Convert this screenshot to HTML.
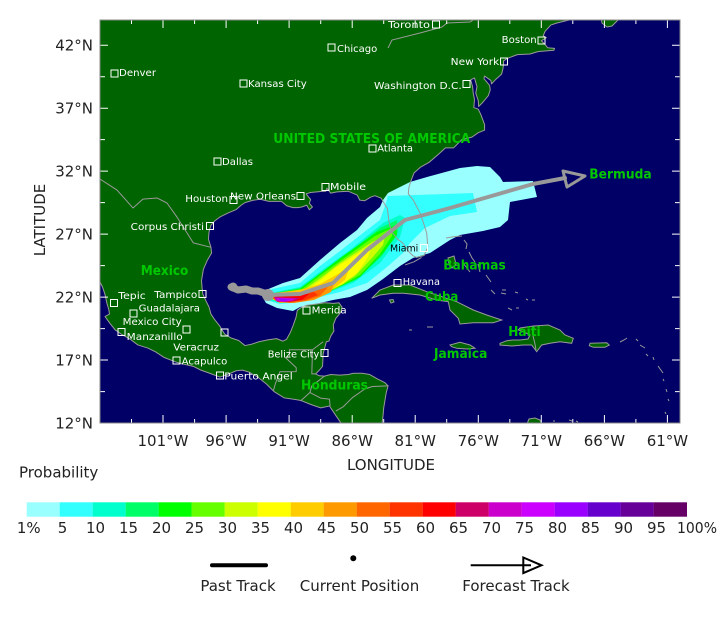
<!DOCTYPE html>
<html><head><meta charset="utf-8"><style>html,body{margin:0;padding:0;background:#fff;overflow:hidden}svg{display:block}</style></head>
<body>
<svg width="720" height="629" viewBox="0 0 720 629" xmlns="http://www.w3.org/2000/svg" xmlns:xlink="http://www.w3.org/1999/xlink" font-family="'DejaVu Sans','Liberation Sans',sans-serif">
<rect width="720" height="629" fill="#fff"/>
<defs>
<clipPath id="mc"><rect x="100" y="20" width="580" height="403"/></clipPath>
<polygon id="cont" points="-106.2,44.2 -68.6,44.2 -68.8,44.0 -69.2,43.9 -69.8,43.75 -70.25,43.6 -70.7,43.1 -70.85,42.75 -70.6,42.6 -71.0,42.35 -70.7,42.05 -70.5,41.8 -69.95,41.75 -70.0,41.6 -70.6,41.55 -71.2,41.5 -71.4,41.45 -71.9,41.3 -72.9,41.25 -73.7,40.95 -74.0,40.75 -74.0,40.45 -74.05,40.1 -74.15,39.7 -74.6,39.3 -74.95,38.93 -75.0,39.2 -75.5,39.55 -75.55,39.35 -75.1,38.8 -75.05,38.45 -75.2,38.0 -75.65,37.45 -75.97,37.13 -76.0,37.6 -76.2,38.2 -76.1,38.7 -76.3,39.4 -76.6,39.25 -76.45,38.7 -76.4,38.2 -76.3,37.7 -76.35,37.05 -76.0,36.92 -75.8,36.5 -75.5,35.7 -75.5,35.25 -76.0,35.05 -76.5,34.7 -77.3,34.5 -77.95,33.85 -78.6,33.85 -79.2,33.3 -79.9,32.7 -80.6,32.3 -81.1,31.85 -81.35,31.2 -81.5,30.7 -81.55,30.2 -81.15,29.7 -80.62,28.67 -80.35,27.9 -80.09,27.08 -80.0,25.97 -80.3,25.3 -80.9,25.15 -81.2,25.3 -81.5,25.6 -82.0,26.3 -82.4,26.6 -82.8,27.1 -83.0,27.6 -83.1,28.1 -83.2,29.0 -83.7,29.85 -84.2,30.05 -84.5,29.95 -85.0,29.65 -85.4,29.7 -85.6,30.1 -86.3,30.4 -87.2,30.35 -87.7,30.25 -88.0,30.65 -88.1,30.4 -88.5,30.38 -89.3,30.3 -89.65,30.2 -89.5,30.0 -89.3,29.75 -89.4,29.45 -89.15,29.15 -89.4,28.93 -89.6,29.3 -90.0,29.15 -90.3,29.1 -90.7,29.1 -91.2,29.25 -91.6,29.6 -92.1,29.6 -92.6,29.6 -93.3,29.77 -93.9,29.68 -94.5,29.5 -94.8,29.3 -95.2,28.95 -95.9,28.65 -96.5,28.35 -96.9,28.05 -97.2,27.7 -97.35,27.2 -97.4,26.6 -97.2,25.95 -97.15,25.5 -97.5,24.9 -97.8,24.2 -97.95,23.3 -97.9,22.7 -97.85,22.25 -97.6,21.7 -97.35,21.2 -97.2,20.65 -96.9,20.2 -96.5,19.7 -96.3,19.35 -96.1,19.05 -95.6,18.75 -95.0,18.55 -94.5,18.15 -94.0,18.25 -93.4,18.45 -92.7,18.6 -92.0,18.7 -91.5,18.5 -91.2,18.65 -90.9,19.2 -90.7,19.7 -90.45,20.4 -90.35,20.95 -90.0,21.2 -89.6,21.35 -88.8,21.45 -88.2,21.55 -87.5,21.5 -87.05,21.55 -86.8,21.2 -86.9,20.8 -87.3,20.3 -87.5,19.8 -87.45,19.3 -87.7,18.9 -87.85,18.5 -88.05,18.45 -88.2,17.9 -88.3,17.5 -88.35,16.5 -88.6,16.2 -88.9,15.9 -88.6,15.75 -88.2,15.72 -87.7,15.85 -87.0,15.8 -86.3,15.85 -85.9,15.95 -85.2,15.95 -84.6,15.85 -84.0,15.5 -83.4,15.2 -83.15,14.95 -83.3,14.4 -83.4,13.8 -83.5,13.2 -83.55,12.6 -83.65,11.8 -86.75,11.8 -87.3,12.6 -87.6,13.05 -87.8,13.35 -88.5,13.2 -89.3,13.48 -90.1,13.8 -90.7,13.9 -91.4,14.0 -92.2,14.5 -92.8,15.1 -93.5,15.65 -94.2,16.05 -94.7,16.2 -95.2,16.15 -95.9,15.85 -96.5,15.65 -97.3,15.95 -98.0,16.2 -98.6,16.5 -99.5,16.7 -100.0,16.85 -100.9,17.2 -101.6,17.65 -102.2,17.95 -103.0,18.2 -103.6,18.65 -104.3,19.05 -104.8,19.4 -105.2,19.9 -105.6,20.45 -105.25,20.65 -105.3,21.0 -105.45,21.5 -105.6,22.2 -105.8,22.8 -106.2,23.6"/>
<g id="isl">
<polygon points="371.7,298.3 380,290 393.3,285 410,285 426.7,291.7 441.7,296.7 456.7,301.7 473.3,310 486.7,315 501.7,320 493.3,322.7 473.3,322.7 460,324 458.3,318.3 450,310 448.3,301.7 436.7,300 420,295 403.3,293.3 393.3,293.3 380,295"/>
<polygon points="389.5,300 393,299.5 394,302 391,303"/>
<polygon points="500,343.3 506.7,340.7 513,340 520,340 528,339 530,335 523.3,331.7 518.3,330 520,328 533.3,326 548.3,325 560,330 565,335 573.3,338.3 571.7,343.3 560,341.7 550,343.3 541.7,345 536.7,351.7 531.7,345 523.3,345 511.7,346 500,345"/>
<polygon points="450,345 460,342.3 470,345 475,348.3 466.7,349 456.7,348.3 451.7,346.7"/>
<polygon points="590,343.3 606.7,342.7 609.3,345 605,347.3 593.3,347.3 589.3,345.7"/>
<polygon points="448,258 454,256 456,264 452,268 449,264"/>
<polygon points="601,18 602,23 607,27 612,26 616,22 620,18"/>
<polygon points="527,424 529,419 535,418 540,420 542,424"/>
</g>
</defs>

<g clip-path="url(#mc)">
<rect x="100" y="20" width="580" height="403" fill="#000066"/>
<g transform="matrix(12.609 0 0 -12.594 1436.55 574.14)"><use xlink:href="#cont" fill="#006400"/></g>
<use xlink:href="#isl" fill="#006400"/>

<polygon fill="#99ffff" points="262,296 266,290 283,283 300,278 320,260 340,243 357,230 367,218 380,207 383,200 388,193 410,182 427,177 460,168 477,166 490,167 500,177 503,182 533,181 537,197 510,202 508,220 500,227 483,231 460,235 450,240 430,253 413,258 400,266 383,279 367,290 350,297 333,300 320,303 300,307 293,311 277,308 266,303"/>
<polygon fill="#33ffff" points="264,295 272,289 300,283 320,266 340,251 363,233 380,220 386,203 388,196 473,193 477,212 450,216 425,228 410,243 403,253 387,267 367,283 340,292 320,297 300,302 280,304 266,300"/>
<polygon fill="#00ffcc" points="266,294 300,287 325,268 350,250 383,223 400,215 405,218 400,237 380,263 353,283 327,293 300,300 280,303 268,300"/>
<polygon fill="#00ff66" points="268,294 300,288 325,270 347,254 380,228 397,220 398,232 382,256 356,280 330,291 300,299 280,302"/>
<polygon fill="#00ff00" points="270,294 300,289 322,272 343,256 377,232 396,225 397,235 383,253 360,277 333,290 305,298 282,301"/>
<polygon fill="#66ff00" points="272,294 302,289 322,274 343,259 375,236 392,228 392,236 380,254 360,275 335,289 305,298 283,300"/>
<polygon fill="#ccff00" points="274,294 305,289 322,277 340,263 372,242 385,236 383,245 372,258 355,276 335,288 308,297 285,300"/>
<polygon fill="#ffff00" points="276,294 308,289 322,279 335,268 360,252 372,246 368,257 358,272 343,284 320,294 298,299 282,300"/>
<polygon fill="#ffcc00" points="274,293 300,290 320,284 338,274 350,266 345,280 330,291 313,298 295,302 280,303 272,299"/>
<polygon fill="#ff9900" points="274,293 300,292 320,288 335,281 331,292 314,300 294,303 279,302 272,298"/>
<polygon fill="#ff6600" points="274,293 300,293 318,290 328,287 320,296 305,301 290,303 278,302 272,298"/>
<polygon fill="#ff3300" points="274,293 298,294 314,292 318,295 305,300 290,302 277,302"/>
<polygon fill="#ff0000" points="274,293 296,294 309,294 302,300 288,302 277,301"/>
<polygon fill="#cc0066" points="274,297 300,298 295,301 284,302 276,301"/>
<polygon fill="#cc00cc" points="275,297.5 297,298.5 291,301 282,302 276,301"/>
<polygon fill="#cc00ff" points="277,298 294,299 288,301 279,301"/>
<polygon fill="#9900ff" points="279,298.5 291,299.5 285,300.8 280,300.8"/>

<g transform="matrix(12.609 0 0 -12.594 1436.55 574.14)" fill="none" stroke="#9a9a9a" stroke-width="0.0794" stroke-linejoin="round">
<use xlink:href="#cont"/>
<polyline points="-106,31.37 -104.65,30.5 -103.38,29.07 -102.6,29.78 -101.48,29.87 -100.69,29.47 -99.9,28.36 -99.1,27.1 -98.6,26.3 -97.2,25.95"/>
<polyline points="-92.25,14.55 -92.1,15.1 -91.73,16.07 -90.44,16.08 -90.44,16.4 -91.3,17.2 -90.98,17.25 -90.98,17.82 -89.15,17.82 -88.3,18.45"/>
<polyline points="-89.15,17.82 -89.2,15.9 -88.9,15.9"/>
<polyline points="-88.2,15.72 -89.2,14.95 -89.35,14.42 -90.1,13.75"/>
<polyline points="-89.35,14.42 -88.5,13.98 -87.8,13.9 -87.75,13.35"/>
<polyline points="-87.3,12.95 -86.7,13.3 -86.0,14.0 -85.0,14.7 -84.4,14.9 -83.15,14.95"/>
<polyline points="-80.5,25.15 -81.1,24.8 -81.8,24.55"/>
</g>
<g fill="none" stroke="#9a9a9a" stroke-width="1">
<use xlink:href="#isl"/>
<polyline points="388,48 392,40 420,33 442,27 447,23 470,22 475,19"/>
<polyline points="534,326 533,336 535,344 536,350"/>
<polyline points="446,238 455,236.5 462,236"/>
<polyline points="464,240 467,244 466,249"/>
<polyline points="469,252 472,258 475,262"/>
<polyline points="478,264 480,272"/>
<polyline points="463,263 470,272"/>
<polyline points="486,275 491,282"/>
<polyline points="491,290 495,294"/>
<polyline points="502,290 506,290"/>
<polyline points="501,293 506,294"/>
<polyline points="515,292 518,293"/>
<polyline points="508,308 512,310"/>
<polyline points="516,308 519,308"/>
<polyline points="526,299 528,300"/>
<polyline points="532,300 535,300"/>
<polyline points="409,330 412,330"/>
<polyline points="427,327 433,327"/>
<polyline points="620,342 624,340 627,338"/>
<polyline points="636,339 638,341"/>
<polyline points="640,345 645,348"/>
<polyline points="646,354 648,356"/>
<polyline points="653,357 654,360"/>
<polyline points="658,366 663,373"/>
<polyline points="663,379 664,381"/>
<polyline points="666,389 667,392"/>
<polyline points="668,399 669,401"/>
<polyline points="665,412 666,414"/>
<polyline points="553,421 555,421"/>
<polyline points="569,420 572,421"/>
<polyline points="576,421 578,422"/>
</g>

<g fill="none" stroke="#999" stroke-linecap="round" stroke-linejoin="round">
<polyline stroke-width="4" points="268,295 300,294 333,283 367,250 405,220 450,208 533,184 565,178"/>
<polygon stroke-width="3" points="563,171 585,176 567,187"/>
<polyline stroke-width="7" points="231,287 238,290 246,289 252,291 258,291 264,293"/>
</g>
<circle cx="233" cy="287" r="4.5" fill="#999"/>
<circle cx="268" cy="295" r="6" fill="#999"/>

<g fill="none" stroke="#fff" stroke-width="1">
<rect x="432.5" y="21" width="7" height="7"/>
<rect x="538" y="37" width="7" height="7"/>
<rect x="500.5" y="58" width="7" height="7"/>
<rect x="463" y="80.5" width="7" height="7"/>
<rect x="369" y="145" width="7" height="7"/>
<rect x="328" y="44" width="7" height="7"/>
<rect x="111" y="70" width="7" height="7"/>
<rect x="240" y="80" width="7" height="7"/>
<rect x="214" y="158" width="7" height="7"/>
<rect x="230" y="196.5" width="7" height="7"/>
<rect x="297" y="192.5" width="7" height="7"/>
<rect x="322" y="183.5" width="7" height="7"/>
<rect x="206.5" y="222.5" width="7" height="7"/>
<rect x="110.5" y="299.5" width="7" height="7"/>
<rect x="199" y="290.5" width="7" height="7"/>
<rect x="130" y="310" width="7" height="7"/>
<rect x="183" y="326" width="7" height="7"/>
<rect x="118" y="328.5" width="7" height="7"/>
<rect x="221" y="329" width="7" height="7"/>
<rect x="173" y="357" width="7" height="7"/>
<rect x="216.5" y="372" width="7" height="7"/>
<rect x="303" y="307" width="7" height="7"/>
<rect x="321" y="349.5" width="7" height="7"/>
<rect x="420.5" y="244.5" width="7" height="7"/>
<rect x="394" y="279.5" width="7" height="7"/>
</g>
<g font-size="10" fill="#fff">
<text x="388" y="28" textLength="42" lengthAdjust="spacingAndGlyphs">Toronto</text>
<text x="501.7" y="43" textLength="35" lengthAdjust="spacingAndGlyphs">Boston</text>
<text x="450.7" y="65" textLength="48.6" lengthAdjust="spacingAndGlyphs">New York</text>
<text x="374" y="89" textLength="87.7" lengthAdjust="spacingAndGlyphs">Washington D.C.</text>
<text x="377.3" y="151.7" textLength="35.7" lengthAdjust="spacingAndGlyphs">Atlanta</text>
<text x="337" y="52" textLength="40.3" lengthAdjust="spacingAndGlyphs">Chicago</text>
<text x="119" y="76" textLength="37" lengthAdjust="spacingAndGlyphs">Denver</text>
<text x="248" y="87" textLength="58.7" lengthAdjust="spacingAndGlyphs">Kansas City</text>
<text x="222" y="165" textLength="31" lengthAdjust="spacingAndGlyphs">Dallas</text>
<text x="185.3" y="202" textLength="42.7" lengthAdjust="spacingAndGlyphs">Houston</text>
<text x="230" y="199.3" textLength="66" lengthAdjust="spacingAndGlyphs">New Orleans</text>
<text x="330" y="190" textLength="36" lengthAdjust="spacingAndGlyphs">Mobile</text>
<text x="130.7" y="230" textLength="73.3" lengthAdjust="spacingAndGlyphs">Corpus Christi</text>
<text x="118.3" y="299" textLength="27.4" lengthAdjust="spacingAndGlyphs">Tepic</text>
<text x="154.3" y="298" textLength="43" lengthAdjust="spacingAndGlyphs">Tampico</text>
<text x="138.7" y="311.7" textLength="61.3" lengthAdjust="spacingAndGlyphs">Guadalajara</text>
<text x="122.7" y="325" textLength="59" lengthAdjust="spacingAndGlyphs">Mexico City</text>
<text x="126.7" y="340" textLength="56" lengthAdjust="spacingAndGlyphs">Manzanillo</text>
<text x="173.3" y="350.7" textLength="45.7" lengthAdjust="spacingAndGlyphs">Veracruz</text>
<text x="181.7" y="364.3" textLength="45.6" lengthAdjust="spacingAndGlyphs">Acapulco</text>
<text x="224.3" y="379.3" textLength="68.4" lengthAdjust="spacingAndGlyphs">Puerto Angel</text>
<text x="311.7" y="313.3" textLength="35" lengthAdjust="spacingAndGlyphs">Merida</text>
<text x="267.7" y="357.3" textLength="51.6" lengthAdjust="spacingAndGlyphs">Belize City</text>
<text x="402.7" y="285" textLength="37.3" lengthAdjust="spacingAndGlyphs">Havana</text>
<text x="390" y="251.7" textLength="28.3" lengthAdjust="spacingAndGlyphs" fill="#000">Miami</text>
</g>

<g font-size="13.5" font-weight="bold" fill="#00c800">
<text x="273.3" y="143" textLength="197" lengthAdjust="spacingAndGlyphs">UNITED STATES OF AMERICA</text>
<text x="140.7" y="275" textLength="47.6" lengthAdjust="spacingAndGlyphs">Mexico</text>
<text x="301" y="389.3" textLength="67" lengthAdjust="spacingAndGlyphs">Honduras</text>
<text x="443.3" y="269.3" textLength="62.4" lengthAdjust="spacingAndGlyphs">Bahamas</text>
<text x="425" y="301" textLength="33.3" lengthAdjust="spacingAndGlyphs">Cuba</text>
<text x="508.3" y="336" textLength="32.4" lengthAdjust="spacingAndGlyphs">Haiti</text>
<text x="434" y="358" textLength="53.3" lengthAdjust="spacingAndGlyphs">Jamaica</text>
<text x="589.3" y="178.3" textLength="62.4" lengthAdjust="spacingAndGlyphs">Bermuda</text>
</g>

<path fill="none" stroke="#fff" stroke-width="1" d="M100,45.2h8M100,108.2h8M100,171.1h8M100,234.1h8M100,297.1h8M100,360h8M100,76.7h5M100,139.6h5M100,202.6h5M100,265.6h5M100,328.6h5M100,391.6h5
M680,45.2h-8M680,108.2h-8M680,171.1h-8M680,234.1h-8M680,297.1h-8M680,360h-8M680,76.7h-5M680,139.6h-5M680,202.6h-5M680,265.6h-5M680,328.6h-5M680,391.6h-5
M163,20v8M226.1,20v8M289.1,20v8M352.2,20v8M415.2,20v8M478.3,20v8M541.3,20v8M604.4,20v8M667.4,20v8M131.5,20v4M194.6,20v4M257.6,20v4M320.7,20v4M383.7,20v4M446.7,20v4M509.8,20v4M572.8,20v4M635.9,20v4
M163,423v-8M226.1,423v-8M289.1,423v-8M352.2,423v-8M415.2,423v-8M478.3,423v-8M541.3,423v-8M604.4,423v-8M667.4,423v-8M131.5,423v-4M194.6,423v-4M257.6,423v-4M320.7,423v-4M383.7,423v-4M446.7,423v-4M509.8,423v-4M572.8,423v-4M635.9,423v-4"/>
</g>
<rect x="100" y="20" width="580" height="403" fill="none" stroke="#888" stroke-width="1"/>

<g font-size="15" fill="#222" text-anchor="end">
<text x="93" y="50.7">42°N</text>
<text x="93" y="113.7">37°N</text>
<text x="93" y="176.6">32°N</text>
<text x="93" y="239.6">27°N</text>
<text x="93" y="302.6">22°N</text>
<text x="93" y="365.5">17°N</text>
<text x="93" y="428.5">12°N</text>
</g>
<g font-size="15" fill="#222" text-anchor="middle">
<text x="163" y="446">101°W</text>
<text x="226.1" y="446">96°W</text>
<text x="289.1" y="446">91°W</text>
<text x="352.2" y="446">86°W</text>
<text x="415.2" y="446">81°W</text>
<text x="478.3" y="446">76°W</text>
<text x="541.3" y="446">71°W</text>
<text x="604.4" y="446">66°W</text>
<text x="667.4" y="446">61°W</text>
<text x="391" y="470">LONGITUDE</text>
<text transform="translate(45,220) rotate(-90)">LATITUDE</text>
</g>

<text x="19" y="477.3" font-size="15" fill="#222">Probability</text>
<g>
<rect x="26.7" y="502.3" width="33.1" height="14.4" fill="#99ffff"/>
<rect x="59.7" y="502.3" width="33.1" height="14.4" fill="#33ffff"/>
<rect x="92.7" y="502.3" width="33.1" height="14.4" fill="#00ffcc"/>
<rect x="125.7" y="502.3" width="33.1" height="14.4" fill="#00ff66"/>
<rect x="158.7" y="502.3" width="33.1" height="14.4" fill="#00ff00"/>
<rect x="191.7" y="502.3" width="33.1" height="14.4" fill="#66ff00"/>
<rect x="224.7" y="502.3" width="33.1" height="14.4" fill="#ccff00"/>
<rect x="257.7" y="502.3" width="33.1" height="14.4" fill="#ffff00"/>
<rect x="290.7" y="502.3" width="33.1" height="14.4" fill="#ffcc00"/>
<rect x="323.7" y="502.3" width="33.1" height="14.4" fill="#ff9900"/>
<rect x="356.7" y="502.3" width="33.1" height="14.4" fill="#ff6600"/>
<rect x="389.7" y="502.3" width="33.1" height="14.4" fill="#ff3300"/>
<rect x="422.7" y="502.3" width="33.1" height="14.4" fill="#ff0000"/>
<rect x="455.7" y="502.3" width="33.1" height="14.4" fill="#cc0066"/>
<rect x="488.7" y="502.3" width="33.1" height="14.4" fill="#cc00cc"/>
<rect x="521.7" y="502.3" width="33.1" height="14.4" fill="#cc00ff"/>
<rect x="554.7" y="502.3" width="33.1" height="14.4" fill="#9900ff"/>
<rect x="587.7" y="502.3" width="33.1" height="14.4" fill="#6600cc"/>
<rect x="620.7" y="502.3" width="33.1" height="14.4" fill="#660099"/>
<rect x="653.7" y="502.3" width="33.3" height="14.4" fill="#660066"/>
</g>
<g font-size="15" fill="#222" text-anchor="middle">
<text x="28.8" y="533">1%</text>
<text x="62.5" y="533">5</text>
<text x="95.5" y="533">10</text>
<text x="128.5" y="533">15</text>
<text x="161.5" y="533">20</text>
<text x="194.5" y="533">25</text>
<text x="227.5" y="533">30</text>
<text x="260.5" y="533">35</text>
<text x="293.5" y="533">40</text>
<text x="326.5" y="533">45</text>
<text x="359.5" y="533">50</text>
<text x="392.5" y="533">55</text>
<text x="425.5" y="533">60</text>
<text x="458.5" y="533">65</text>
<text x="491.5" y="533">70</text>
<text x="524.5" y="533">75</text>
<text x="557.5" y="533">80</text>
<text x="590.5" y="533">85</text>
<text x="623.5" y="533">90</text>
<text x="656.5" y="533">95</text>
<text x="697" y="533" textLength="40" lengthAdjust="spacingAndGlyphs">100%</text>
</g>

<line x1="212" y1="565.3" x2="266" y2="565.3" stroke="#000" stroke-width="4" stroke-linecap="round"/>
<circle cx="353.3" cy="558.3" r="3" fill="#000"/>
<line x1="470.7" y1="565.3" x2="531" y2="565.3" stroke="#000" stroke-width="2"/>
<polygon points="523.3,557.5 541.5,565.3 523.3,573.1" fill="none" stroke="#000" stroke-width="2" stroke-linejoin="miter"/>
<g font-size="15" fill="#222" text-anchor="middle">
<text x="238" y="591">Past Track</text>
<text x="359.5" y="591">Current Position</text>
<text x="516" y="591">Forecast Track</text>
</g>
</svg>
</body></html>
